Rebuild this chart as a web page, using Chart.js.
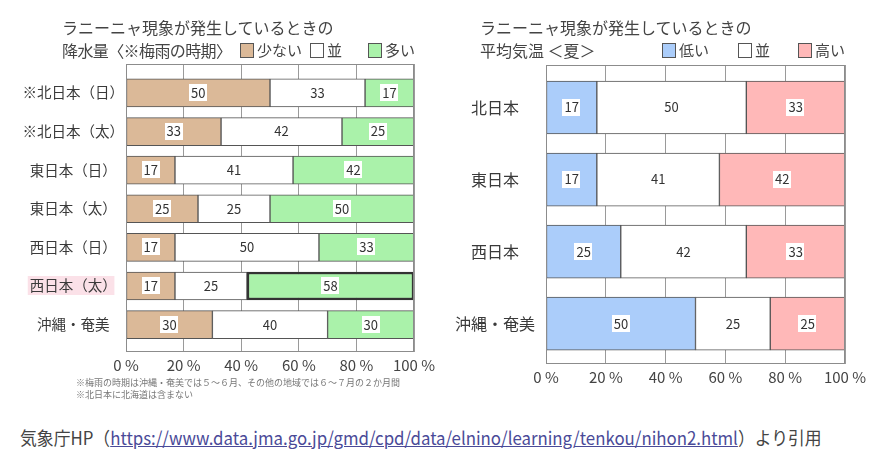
<!DOCTYPE html>
<html lang="ja">
<head>
<meta charset="utf-8">
<script src="https://cdn.jsdelivr.net/npm/chart.js@4.4.1/dist/chart.umd.min.js"></script>
<style>
  body { margin: 0; background: #fff; font-family: "Noto Sans CJK JP", sans-serif; color: #444; }
  #page { position: relative; width: 886px; height: 462px; overflow: hidden; }
  .panel { position: absolute; top: 0; width: 443px; height: 400px; }
  .title { position: absolute; font-size: 16px; line-height: 20px; white-space: nowrap; color: #444; }
  .legend { position: absolute; font-size: 15px; line-height: 20px; white-space: nowrap; color: #444; }
  .legend i { display: inline-block; width: 12px; height: 13px; border: 1px solid #555; vertical-align: -2px; margin-right: 3px; }
  .note { position: absolute; left: 76px; font-size: 9px; line-height: 12px; color: #777; white-space: nowrap; }
  #source { position: absolute; left: 20px; top: 425px; font-size: 18px; line-height: 24px; white-space: nowrap; color: #444; transform-origin: 0 50%; }
  #source a { color: #4a4a98; text-decoration: underline; }
</style>
</head>
<body>
<div id="page">
  <canvas id="rain" class="panel" style="left:0" width="443" height="400"></canvas>
  <canvas id="temp" class="panel" style="left:443px" width="443" height="400"></canvas>

  <div class="title" style="left:62px; top:17px">ラニーニャ現象が発生しているときの</div>
  <div class="title" style="left:62px; top:40px; letter-spacing:-0.6px">降水量〈※梅雨の時期〉</div>
  <div class="title" style="left:480px; top:17px">ラニーニャ現象が発生しているときの</div>
  <div class="title" style="left:480px; top:40px">平均気温 ＜夏＞</div>

  <div class="note" style="top:377px">※梅雨の時期は沖縄・奄美では５～６月、その他の地域では６～７月の２か月間</div>
  <div class="note" style="top:389px">※北日本に北海道は含まない</div>

  <div id="source">気象庁HP（<a>https://www.data.jma.go.jp/gmd/cpd/data/elnino/learning/tenkou/nihon2.html</a>）より引用</div>
</div>

<script>
// 降水量（梅雨の時期）
const rainRegions = ['※北日本（日）', '※北日本（太）', '東日本（日）', '東日本（太）', '西日本（日）', '西日本（太）', '沖縄・奄美'];
const rainSeries = ['少ない', '並', '多い'];
const rainLow = [50, 33, 17, 25, 17, 17, 30];
const rainNormal = [33, 42, 41, 25, 50, 25, 40];
const rainHigh = [17, 25, 42, 50, 33, 58, 30];

// 平均気温（夏）
const tempRegions = ['北日本', '東日本', '西日本', '沖縄・奄美'];
const tempSeries = ['低い', '並', '高い'];
const tempLow = [17, 17, 25, 50];
const tempNormal = [50, 41, 42, 25];
const tempHigh = [33, 42, 33, 25];

const percentTicks = [0, 20, 40, 60, 80, 100];

const FONT = '"Noto Sans CJK JP", sans-serif';
const rainColors = ['#dbb998', '#ffffff', '#aaf2aa'];
const tempColors = ['#abcdfa', '#ffffff', '#ffb8b8'];
const edge = '#555';

// legends (HTML, built from the series names)
function addLegend(names, colors, lefts, offsetX) {
    const page = document.getElementById('page');
    names.forEach((name, i) => {
        const d = document.createElement('div');
        d.className = 'legend';
        d.style.left = (offsetX + lefts[i]) + 'px';
        d.style.top = '40px';
        d.innerHTML = `<i style="background:${colors[i]}"></i>${name}`;
        page.appendChild(d);
    });
}
addLegend(rainSeries, rainColors, [240, 310, 368], 0);
addLegend(tempSeries, tempColors, [219, 295, 355], 443);

// white boxed value labels in the middle of each segment
const valueLabels = {
    id: 'valueLabels',
    afterDatasetsDraw(chart) {
        const ctx = chart.ctx;
        ctx.save();
        ctx.font = '13px ' + FONT;
        ctx.textAlign = 'center';
        ctx.textBaseline = 'middle';
        chart.data.datasets.forEach((ds, di) => {
            chart.getDatasetMeta(di).data.forEach((bar, i) => {
                const c = bar.getCenterPoint();
                const txt = String(ds.data[i].x);
                const w = ctx.measureText(txt).width + 4;
                ctx.fillStyle = '#fff';
                ctx.fillRect(Math.round(c.x - w / 2), Math.round(c.y - 9), Math.round(w), 17);
                ctx.fillStyle = '#333';
                ctx.fillText(txt, c.x, c.y);
            });
        });
        ctx.restore();
    }
};

// grey box around the plot area
const frame = {
    id: 'frame',
    afterDatasetsDraw(chart) {
        const { left, top, right, bottom } = chart.chartArea;
        const ctx = chart.ctx;
        ctx.save();
        ctx.strokeStyle = '#8c8c8c';
        ctx.lineWidth = 1;
        ctx.strokeRect(left + 0.5, top + 0.5, right - left - 1, bottom - top - 1);
        ctx.restore();
    }
};

// pink marker behind one region label (labels are centred in the axis)
const highlight = {
    id: 'highlight',
    beforeDraw(chart, args, opts) {
        if (opts.index == null) return;
        const y = chart.scales.y;
        const size = y.options.ticks.font.size;
        const ctx = chart.ctx;
        ctx.save();
        ctx.font = size + 'px ' + FONT;
        const widest = Math.max(...y.ticks.map(t => ctx.measureText(t.label).width));
        const w = ctx.measureText(y.ticks[opts.index].label).width;
        const cx = y.right - y.options.ticks.padding - widest / 2;
        const yy = y.getPixelForValue(opts.index);
        ctx.fillStyle = '#fbe1e8';
        ctx.fillRect(cx - w / 2 - 2, yy - 10, w - size * 0.3 + 4, 19);
        ctx.restore();
    }
};

function toPoints(values) {
    return values.map((v, i) => ({ x: v, y: i }));
}

function makeChart(id, regions, series, colors, values, opt) {
    const datasets = series.map((name, s) => ({
        label: name,
        data: toPoints(values[s]),
        backgroundColor: colors[s],
        borderColor: opt.borderColor ? opt.borderColor[s] : edge,
        borderWidth: opt.borderWidth ? opt.borderWidth[s] : 1,
        borderSkipped: false,
        barThickness: opt.barThickness
    }));
    return new Chart(document.getElementById(id), {
        type: 'bar',
        data: { datasets },
        plugins: [highlight, frame, valueLabels],
        options: {
            indexAxis: 'y',
            responsive: false,
            animation: false,
            events: [],
            layout: { padding: opt.padding },
            plugins: {
                legend: { display: false },
                tooltip: { enabled: false },
                highlight: { index: opt.highlightIndex }
            },
            scales: {
                x: {
                    type: 'linear',
                    stacked: true,
                    min: 0,
                    max: 100,
                    afterBuildTicks: s => { s.ticks = percentTicks.map(v => ({ value: v })); },
                    afterFit: s => { s.height = 30; },
                    grid: { color: '#9a9a9a', drawTicks: false },
                    border: { display: false },
                    ticks: {
                        padding: 4,
                        maxRotation: 0,
                        color: '#444',
                        font: { family: FONT, size: 15 },
                        callback: v => v + ' %'
                    }
                },
                y: {
                    type: 'linear',
                    stacked: true,
                    reverse: true,
                    offset: false,
                    min: opt.yMin,
                    max: opt.yMax,
                    afterBuildTicks: s => { s.ticks = regions.map((_, i) => ({ value: i })); },
                    afterFit: s => { s.width = opt.yWidth; },
                    grid: { display: false, offset: false, drawTicks: false },
                    border: { display: false },
                    ticks: {
                        autoSkip: false,
                        crossAlign: 'center',
                        padding: opt.labelPad,
                        color: '#3a3a3a',
                        font: { family: FONT, size: opt.labelSize },
                        callback: v => regions[v]
                    }
                }
            }
        }
    });
}

makeChart('rain', rainRegions, rainSeries, rainColors, [rainLow, rainNormal, rainHigh], {
    padding: { left: 0, top: 64, right: 29, bottom: 18 },
    yWidth: 126,
    yMin: -0.75,
    yMax: 6.71,
    barThickness: 28,
    labelSize: 14.5,
    labelPad: 2,
    highlightIndex: 5,
    borderWidth: [1, 1, rainHigh.map((_, i) => i === 5 ? 2.5 : 1)],
    borderColor: [edge, edge, rainHigh.map((_, i) => i === 5 ? '#333' : edge)]
});

makeChart('temp', tempRegions, tempSeries, tempColors, [tempLow, tempNormal, tempHigh], {
    padding: { left: 0, top: 65, right: 41, bottom: 6 },
    yWidth: 103,
    yMin: -0.59,
    yMax: 3.56,
    barThickness: 53,
    labelSize: 16,
    labelPad: 11,
    highlightIndex: null
});

// the source line is set in a narrow face; squeeze it to the reference width
const src = document.getElementById('source');
src.style.transform = 'scaleX(' + (802 / src.offsetWidth) + ')';
</script>
</body>
</html>
